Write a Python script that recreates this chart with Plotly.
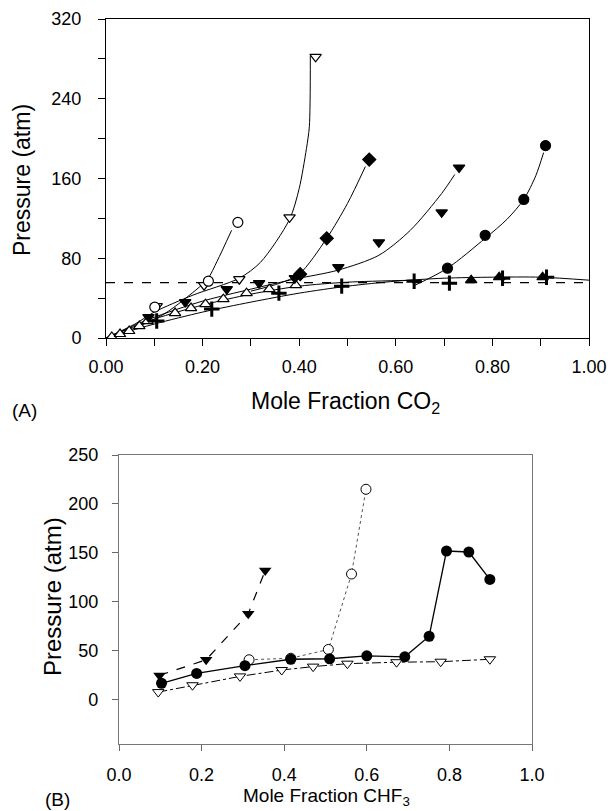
import plotly.graph_objects as go

W, H = 610, 811

# ---------------- Panel A data (Mole fraction CO2 vs Pressure) ----------------
a_circ_open_x = [0.101, 0.212, 0.273]
a_circ_open_y = [31, 57, 116]
a_tri_dn_open_x = [0.105, 0.203, 0.276, 0.380, 0.434]
a_tri_dn_open_y = [32, 53, 59, 121, 282]
a_diamond_x = [0.402, 0.457, 0.545]
a_diamond_y = [64, 100, 179]
a_tri_dn_x = [0.088, 0.164, 0.250, 0.317, 0.391, 0.481, 0.565, 0.695, 0.731]
a_tri_dn_y = [21, 36, 49, 55, 60, 71, 96, 126, 171]
a_circ_x = [0.707, 0.785, 0.865, 0.910]
a_circ_y = [70, 103, 139, 193]
a_tri_up_x = [0.756, 0.814, 0.904]
a_tri_up_y = [58, 61, 61]
a_plus_x = [0.105, 0.219, 0.358, 0.488, 0.638, 0.711, 0.821, 0.912]
a_plus_y = [17, 29, 45, 52, 57, 55, 60, 61]
a_tri_up_open_x = [0.012, 0.029, 0.048, 0.069, 0.086, 0.143, 0.176, 0.206, 0.243, 0.291, 0.338, 0.393]
a_tri_up_open_y = [1, 4, 7, 12, 17, 25, 30, 34, 39, 45, 49, 53]

# fitted model curves
c_circ_open_x = [0.0, 0.06, 0.12, 0.16, 0.21, 0.23, 0.26]
c_circ_open_y = [0, 10, 24, 38, 59, 77, 108]
c_tri_dn_open_x = [0.0, 0.06, 0.10, 0.18, 0.276, 0.32, 0.38, 0.40, 0.415, 0.421, 0.423]
c_tri_dn_open_y = [0, 14, 26, 43, 60, 76, 119, 150, 190, 212, 283]
c_diamond_x = [0.30, 0.36, 0.40, 0.457, 0.50, 0.537]
c_diamond_y = [47, 55, 64, 100, 135, 172]
c_tri_dn_x = [0.0, 0.09, 0.20, 0.30, 0.39, 0.48, 0.565, 0.63, 0.695, 0.722]
c_tri_dn_y = [0, 19, 37, 49, 59, 68, 83, 108, 145, 164]
c_circ_x = [0.64, 0.707, 0.785, 0.83, 0.865, 0.89, 0.906]
c_circ_y = [53, 70, 100, 119, 139, 163, 186]
c_flat_x = [0.0, 0.10, 0.20, 0.30, 0.40, 0.50, 0.60, 0.70, 0.80, 0.90, 1.00]
c_flat_y = [0, 14, 26, 36, 45, 52, 57, 60, 61, 61, 58]
c_tri_up_open_x = [0.0, 0.10, 0.20, 0.30, 0.40, 0.50, 0.64]
c_tri_up_open_y = [0, 19, 33, 44, 52, 56, 58]

p_dashed = 55.5

# ---------------- Panel B data (Mole fraction CHF3 vs Pressure) ----------------
b_tri_dn_x = [0.098, 0.211, 0.313, 0.354]
b_tri_dn_y = [25, 41, 88, 132]
b_circ_x = [0.103, 0.188, 0.305, 0.416, 0.510, 0.600, 0.692, 0.751, 0.793, 0.847, 0.898]
b_circ_y = [17, 27, 35, 41.5, 42, 45, 44, 65, 152, 151, 123]
b_circ_open_x = [0.315, 0.416, 0.507, 0.563, 0.598]
b_circ_open_y = [41, 42.5, 51.5, 128.5, 215]
b_tri_dn_open_x = [0.095, 0.178, 0.293, 0.394, 0.470, 0.553, 0.672, 0.779, 0.898]
b_tri_dn_open_y = [8, 15, 24, 30.5, 34, 37, 38.5, 39, 41.5]

fig = go.Figure()

FONT = "Liberation Sans, Arial, sans-serif"
BLACK = "black"


def curve(x, y, xa="x", ya="y"):
    fig.add_trace(go.Scatter(x=x, y=y, mode="lines", xaxis=xa, yaxis=ya,
                             line=dict(color=BLACK, width=1, shape="spline", smoothing=0.8),
                             hoverinfo="skip", showlegend=False))


def markers(x, y, symbol, size=10, filled=True, xa="x", ya="y", lw=1.2):
    fig.add_trace(go.Scatter(x=x, y=y, mode="markers", xaxis=xa, yaxis=ya,
                             marker=dict(symbol=symbol, size=size,
                                         color=BLACK if filled else "white",
                                         line=dict(color=BLACK, width=lw)),
                             showlegend=False))


# Panel A
fig.add_trace(go.Scatter(x=[0, 1], y=[p_dashed, p_dashed], mode="lines",
                         line=dict(color=BLACK, width=1.3, dash="dash"),
                         showlegend=False))
curve(c_flat_x, c_flat_y)
curve(c_tri_up_open_x, c_tri_up_open_y)
curve(c_circ_open_x, c_circ_open_y)
curve(c_tri_dn_open_x, c_tri_dn_open_y)
curve(c_diamond_x, c_diamond_y)
curve(c_tri_dn_x, c_tri_dn_y)
curve(c_circ_x, c_circ_y)

markers(a_tri_up_open_x, a_tri_up_open_y, "triangle-up", 10, filled=False)
markers(a_plus_x, a_plus_y, "cross-thin", 11, lw=3)
markers(a_tri_up_x, a_tri_up_y, "triangle-up", 10)
markers(a_circ_x, a_circ_y, "circle", 10)
markers(a_tri_dn_x, a_tri_dn_y, "triangle-down", 10)
markers(a_diamond_x, a_diamond_y, "diamond", 10)
markers(a_tri_dn_open_x, a_tri_dn_open_y, "triangle-down", 10, filled=False)
markers(a_circ_open_x, a_circ_open_y, "circle", 10, filled=False)

# Panel B
fig.add_trace(go.Scatter(x=b_tri_dn_open_x, y=b_tri_dn_open_y, mode="lines+markers",
                         xaxis="x2", yaxis="y2",
                         line=dict(color=BLACK, width=1, dash="dashdot"),
                         marker=dict(symbol="triangle-down", size=10, color="white",
                                     line=dict(color=BLACK, width=1)),
                         showlegend=False))
fig.add_trace(go.Scatter(x=b_circ_open_x, y=b_circ_open_y, mode="lines+markers",
                         xaxis="x2", yaxis="y2",
                         line=dict(color="#555555", width=1, dash="dot"),
                         marker=dict(symbol="circle", size=10, color="white",
                                     line=dict(color=BLACK, width=1)),
                         showlegend=False))
fig.add_trace(go.Scatter(x=b_circ_x, y=b_circ_y, mode="lines+markers",
                         xaxis="x2", yaxis="y2",
                         line=dict(color=BLACK, width=1.3),
                         marker=dict(symbol="circle", size=11, color=BLACK),
                         showlegend=False))
fig.add_trace(go.Scatter(x=b_tri_dn_x, y=b_tri_dn_y, mode="lines+markers",
                         xaxis="x2", yaxis="y2",
                         line=dict(color=BLACK, width=1.2, dash="dash"),
                         marker=dict(symbol="triangle-down", size=11, color=BLACK),
                         showlegend=False))

tickfont = dict(family=FONT, size=18, color=BLACK)


def label(text, px, py, size, angle=0):
    return dict(text=text, x=px / W, y=1 - py / H, xref="paper", yref="paper",
                xanchor="center", yanchor="middle", textangle=angle,
                showarrow=False, font=dict(family=FONT, size=size, color=BLACK))


fig.update_layout(
    width=W, height=H,
    margin=dict(l=0, r=0, t=0, b=0),
    paper_bgcolor="white", plot_bgcolor="white",
    font=dict(family=FONT, color=BLACK),
    xaxis=dict(domain=[106 / W, 589 / W], anchor="y", range=[0, 1],
               tickvals=[0, 0.2, 0.4, 0.6, 0.8, 1.0],
               ticktext=["0.00", "0.20", "0.40", "0.60", "0.80", "1.00"],
               ticks="outside", ticklen=7, tickcolor=BLACK, tickwidth=1,
               minor=dict(dtick=0.1, tick0=0, ticks="outside", ticklen=7, tickcolor=BLACK),
               showline=True, linecolor=BLACK, linewidth=1, mirror=True,
               ticklabelstandoff=5, automargin=False,
               showgrid=False, zeroline=False, tickfont=tickfont),
    yaxis=dict(domain=[1 - 338 / H, 1 - 19 / H], anchor="x", range=[0, 320],
               tickvals=[0, 80, 160, 240, 320],
               ticks="outside", ticklen=7, tickcolor=BLACK, tickwidth=1,
               minor=dict(dtick=40, tick0=0, ticks="outside", ticklen=7, tickcolor=BLACK),
               showline=True, linecolor=BLACK, linewidth=1, mirror=True,
               ticklabelstandoff=13, automargin=False,
               showgrid=False, zeroline=False, tickfont=tickfont),
    xaxis2=dict(domain=[119 / W, 532 / W], anchor="y2", range=[0, 1],
                tickvals=[0, 0.2, 0.4, 0.6, 0.8, 1.0],
                ticktext=["0.0", "0.2", "0.4", "0.6", "0.8", "1.0"],
                ticks="outside", ticklen=6, tickcolor="#666666", tickwidth=1,
                showline=True, linecolor="#777777", linewidth=1.2, mirror=True,
                ticklabelstandoff=8, automargin=False,
                showgrid=False, zeroline=False, tickfont=tickfont),
    yaxis2=dict(domain=[1 - 744 / H, 1 - 455 / H], anchor="x2", range=[-45, 250],
                tickvals=[0, 50, 100, 150, 200, 250],
                ticks="outside", ticklen=6, tickcolor="#666666", tickwidth=1,
                showline=True, linecolor="#777777", linewidth=1.2, mirror=True,
                ticklabelstandoff=10, automargin=False,
                showgrid=False, zeroline=False, tickfont=tickfont),
    annotations=[
        label("Mole Fraction CO<sub>2</sub>", 345, 403, 23),
        label("Pressure (atm)", 22, 180, 23, -90),
        label("(A)", 25, 411, 19),
        label("Mole Fraction CHF<sub>3</sub>", 326, 797, 19),
        label("Pressure (atm)", 52, 597, 24, -90),
        label("(B)", 57, 799, 19),
    ],
)

fig.write_html("out.html")
